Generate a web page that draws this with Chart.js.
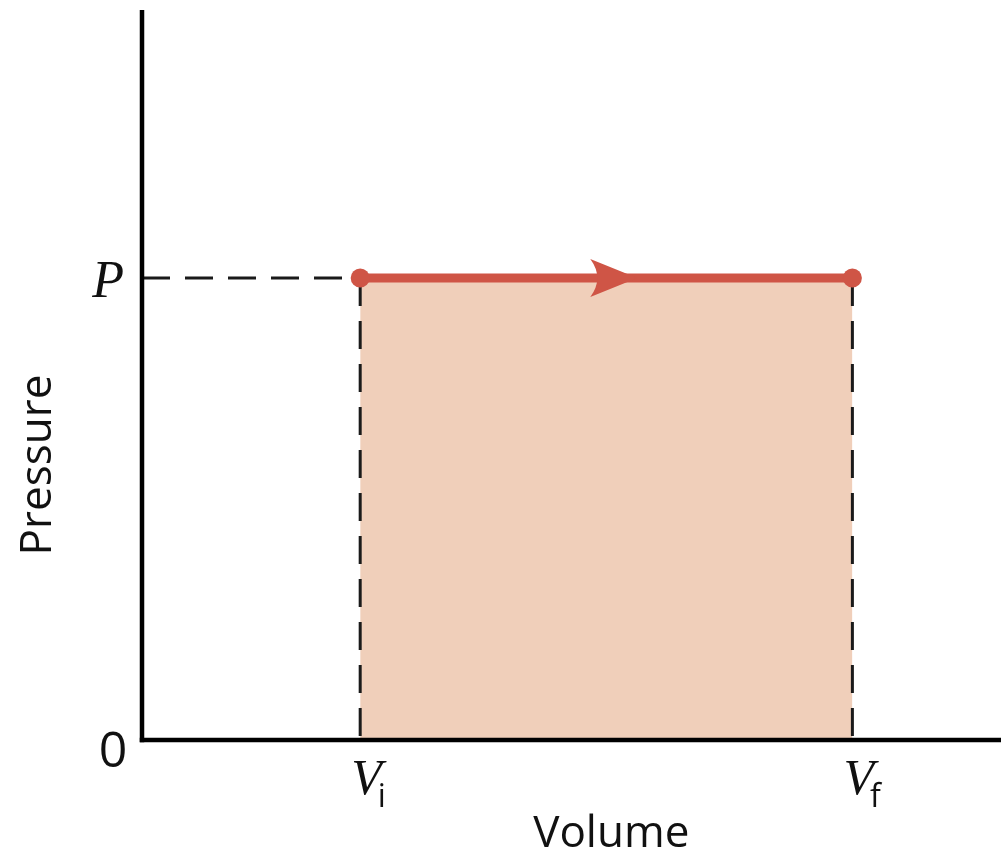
<!DOCTYPE html>
<html>
<head>
<meta charset="utf-8">
<script src="https://cdn.jsdelivr.net/npm/chart.js@4.4.1/dist/chart.umd.min.js"></script>
<style>
  html, body { margin: 0; padding: 0; background: #fff; overflow: hidden; }
  #wrap { width: 1001px; height: 862px; }
  canvas { display: block; }
</style>
</head>
<body>
<div id="wrap"><canvas id="c" width="1001" height="862"></canvas></div>
<script>
// ---- data ----
const volumeRange = [0, 10];          // x axis extent
const pressureRange = [0, 10];        // y axis extent
const volumeValues = [2.54, 8.27];    // V_i, V_f
const pressureValues = [6.33, 6.33];  // constant pressure P
const xTickLabels = [["V", "i"], ["V", "f"]];
const yTickLabels = ["0", "P"];
const xTitle = "Volume";
const yTitle = "Pressure";
const arrowFraction = 0.563;          // where the arrow tip sits along the path

const RED = '#cf5546';
const FILL = '#f0cfba';
const DASH = '#1a1a1a';

const Vi = volumeValues[0], Vf = volumeValues[1], P = pressureValues[0];

const pathData = volumeValues.map((v, i) => ({x: v, y: pressureValues[i]}));
const fillData = volumeValues.map((v, i) => ({x: v, y: pressureValues[i]}));
const dashH = [{x: volumeRange[0], y: P}, {x: Vi, y: P}];
const dashVi = [{x: Vi, y: P}, {x: Vi, y: pressureRange[0]}];
const dashVf = [{x: Vf, y: P}, {x: Vf, y: pressureRange[0]}];

const decorPlugin = {
  id: 'decor',
  afterDatasetsDraw(chart) {
    const ctx = chart.ctx;
    const xs = chart.scales.x, ys = chart.scales.y;
    const ca = chart.chartArea;
    const x0 = xs.getPixelForValue(volumeRange[0]);
    const y0 = ys.getPixelForValue(pressureRange[0]);
    ctx.save();
    // axes
    ctx.strokeStyle = '#000';
    ctx.lineWidth = 4.5;
    ctx.lineCap = 'butt';
    ctx.beginPath();
    ctx.moveTo(x0, ca.top);
    ctx.lineTo(x0, y0 + 2.25);
    ctx.stroke();
    ctx.beginPath();
    ctx.moveTo(x0 - 2.25, y0);
    ctx.lineTo(chart.width, y0);
    ctx.stroke();

    // arrow
    const tipX = xs.getPixelForValue(Vi + arrowFraction * (Vf - Vi));
    const py = ys.getPixelForValue(P);
    const len = 47, half = 19;
    ctx.fillStyle = RED;
    ctx.beginPath();
    ctx.moveTo(tipX, py);
    ctx.lineTo(tipX - len, py - half);
    ctx.quadraticCurveTo(tipX - len + 14, py, tipX - len, py + half);
    ctx.closePath();
    ctx.fill();

    // tick labels
    ctx.fillStyle = '#111';
    ctx.textBaseline = 'alphabetic';
    ctx.font = 'italic 52px "Liberation Serif"';
    ctx.textAlign = 'right';
    ctx.fillText(yTickLabels[1], x0 - 18, py + 19);
    ctx.font = '50px "Open Sans"';
    ctx.textAlign = 'center';
    ctx.fillText(yTickLabels[0], x0 - 29, y0 + 27);

    volumeValues.forEach((v, i) => {
      const px = xs.getPixelForValue(v);
      const [main, sub] = xTickLabels[i];
      ctx.font = 'italic 50px "Liberation Serif"';
      ctx.textAlign = 'left';
      const mw = ctx.measureText(main).width;
      const startX = px - 9;
      ctx.fillText(main, startX, y0 + 54);
      ctx.font = '32px "Open Sans"';
      ctx.fillText(sub, startX + mw - 4, y0 + 67);
    });

    // axis titles
    ctx.font = '44px "Open Sans"';
    ctx.textAlign = 'center';
    ctx.textBaseline = 'middle';
    ctx.fillText(xTitle, (xs.getPixelForValue(Vi) + xs.getPixelForValue(Vf)) / 2 + 5, y0 + 94);
    ctx.save();
    ctx.translate(38, 465);
    ctx.rotate(-Math.PI / 2);
    ctx.fillText(yTitle, 0, 0);
    ctx.restore();
    ctx.restore();
  }
};

new Chart(document.getElementById('c'), {
  type: 'scatter',
  data: {
    datasets: [
      {
        data: pathData, showLine: true, borderColor: RED, borderWidth: 9,
        pointRadius: 9.5, pointBackgroundColor: RED, pointBorderWidth: 0,
        fill: false, clip: false, order: 1
      },
      { data: dashH, showLine: true, borderColor: DASH, borderWidth: 3, borderDash: [28, 15],
        pointRadius: 0, fill: false, clip: false, order: 2 },
      { data: dashVi, showLine: true, borderColor: DASH, borderWidth: 3, borderDash: [28, 15],
        pointRadius: 0, fill: false, clip: false, order: 2 },
      { data: dashVf, showLine: true, borderColor: DASH, borderWidth: 3, borderDash: [28, 15],
        pointRadius: 0, fill: false, clip: false, order: 2 },
      { data: fillData, showLine: true, borderWidth: 0, borderColor: 'rgba(0,0,0,0)',
        backgroundColor: FILL, fill: 'origin', pointRadius: 0, clip: false, order: 3 }
    ]
  },
  options: {
    responsive: false,
    animation: false,
    events: [],
    layout: { autoPadding: false, padding: { left: 142, right: 0, top: 10, bottom: 122 } },
    plugins: { legend: { display: false }, tooltip: { enabled: false } },
    scales: {
      x: { type: 'linear', display: false, min: volumeRange[0], max: volumeRange[1] },
      y: { type: 'linear', display: false, min: pressureRange[0], max: pressureRange[1] }
    }
  },
  plugins: [decorPlugin]
});
</script>
</body>
</html>
